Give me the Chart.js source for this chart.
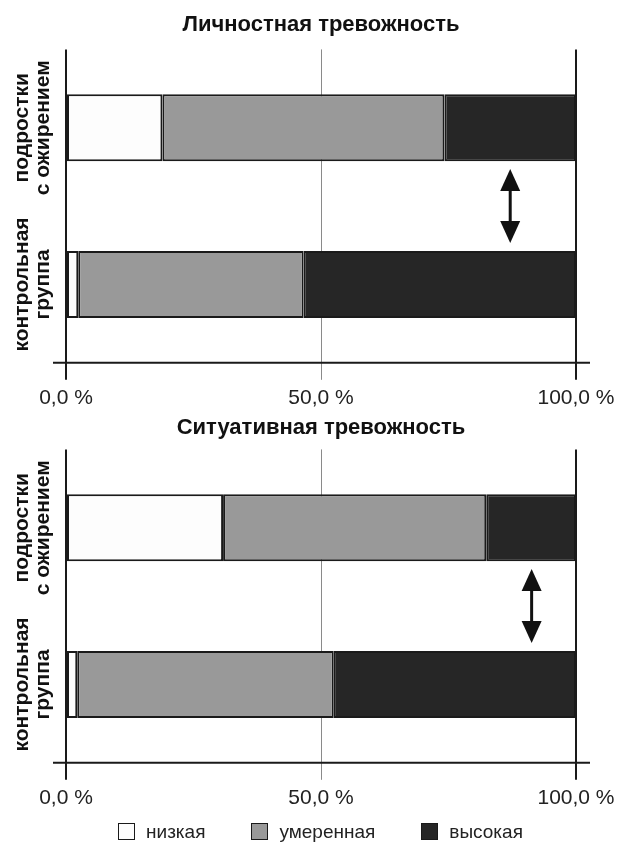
<!DOCTYPE html>
<html lang="ru">
<head>
<meta charset="utf-8">
<title>Личностная и ситуативная тревожность</title>
<script src="https://cdn.jsdelivr.net/npm/chart.js@4/dist/chart.umd.min.js"></script>
<style>
  body { margin: 0; background: #fff; font-family: "Liberation Sans", Arial, sans-serif; }
  #page { position: relative; width: 617px; height: 843px; overflow: hidden; }
  canvas { display: block; position: absolute; left: 0; }
  #trait { top: 0; }
  #state { top: 400px; }
  #legend { position: absolute; left: 0; right: 0; top: 810px; display: flex; justify-content: center; gap: 46px; padding: 12px 0 0 24px; font-size: 19px; color: #222; }
  .item { display: flex; align-items: center; line-height: 19px; }
  .box { width: 15px; height: 15px; border: 1.5px solid #1a1a1a; margin-right: 11px; }
</style>
</head>
<body>
<div id="page">
  <canvas id="trait" width="617" height="417"></canvas>
  <canvas id="state" width="617" height="417"></canvas>
  <div id="legend"></div>
</div>
<script>
// Data (percent of group)
const groups = [['подростки', 'с ожирением'], ['контрольная', 'группа']];
const levels = ['низкая', 'умеренная', 'высокая'];
const fills = ['#fdfdfd', '#999999', '#262626'];
const tickLabels = ['0,0 %', '50,0 %', '100,0 %'];

const traitLow = [18.9, 2.4];
const traitMid = [55.3, 44.2];
const traitHigh = [25.8, 53.4];

const stateLow = [30.8, 2.2];
const stateMid = [51.6, 50.3];
const stateHigh = [17.6, 47.5];

const FONT = '"Liberation Sans", Arial, sans-serif';

// rotated group names left of the bars
const groupLabels = {
  id: 'groupLabels',
  afterDraw(chart) {
    const ctx = chart.ctx;
    const ys = chart.scales.y;
    ctx.save();
    ctx.fillStyle = '#111';
    ctx.font = 'bold 21px ' + FONT;
    ctx.textAlign = 'center';
    ctx.textBaseline = 'middle';
    chart.data.labels.forEach((lines, i) => {
      const py = ys.getPixelForValue(i);
      lines.forEach((line, k) => {
        ctx.save();
        ctx.translate(22 + k * 21, py);
        ctx.rotate(-Math.PI / 2);
        ctx.fillText(line, 0, 0);
        ctx.restore();
      });
    });
    ctx.restore();
  }
};

// horizontal axis line, a bit longer than the plot
const baseLine = {
  id: 'baseLine',
  afterDatasetsDraw(chart) {
    const { ctx, chartArea: a } = chart;
    ctx.save();
    ctx.strokeStyle = '#1a1a1a';
    ctx.lineWidth = 2;
    ctx.beginPath();
    ctx.moveTo(a.left - 13, a.bottom);
    ctx.lineTo(a.right + 14, a.bottom);
    ctx.stroke();
    ctx.restore();
  }
};

// double arrow between the two bars
const diffArrow = {
  id: 'diffArrow',
  afterDatasetsDraw(chart, args, opts) {
    const ctx = chart.ctx;
    const x = chart.scales.x.getPixelForValue(opts.at);
    const ys = chart.scales.y;
    const mid = (ys.getPixelForValue(0) + ys.getPixelForValue(1)) / 2;
    const half = 37, head = 22, w = 10;
    ctx.save();
    ctx.fillStyle = '#111';
    ctx.strokeStyle = '#111';
    ctx.lineWidth = 3;
    ctx.beginPath();
    ctx.moveTo(x, mid - half + head - 2);
    ctx.lineTo(x, mid + half - head + 2);
    ctx.stroke();
    ctx.beginPath();
    ctx.moveTo(x, mid - half);
    ctx.lineTo(x - w, mid - half + head);
    ctx.lineTo(x + w, mid - half + head);
    ctx.closePath();
    ctx.fill();
    ctx.beginPath();
    ctx.moveTo(x, mid + half);
    ctx.lineTo(x - w, mid + half - head);
    ctx.lineTo(x + w, mid + half - head);
    ctx.closePath();
    ctx.fill();
    ctx.restore();
  }
};

function makeChart(id, title, low, mid, high, arrowAt, titlePad) {
  const values = [low, mid, high];
  return new Chart(document.getElementById(id), {
    type: 'bar',
    data: {
      labels: groups,
      datasets: levels.map((lvl, i) => ({
        label: lvl,
        data: values[i],
        backgroundColor: fills[i],
        borderColor: '#1a1a1a',
        borderWidth: 2,
        borderSkipped: false,
        barPercentage: 0.428,
        categoryPercentage: 1
      }))
    },
    options: {
      indexAxis: 'y',
      responsive: false,
      animation: false,
      devicePixelRatio: 1,
      layout: { padding: { top: 0, left: 66, right: 41, bottom: 0 } },
      plugins: {
        legend: { display: false },
        tooltip: { enabled: false },
        title: {
          display: true,
          text: title,
          fullSize: false,
          color: '#111',
          font: { family: FONT, size: 22, weight: 'bold' },
          padding: titlePad
        },
        diffArrow: { at: arrowAt }
      },
      scales: {
        x: {
          type: 'linear',
          min: 0,
          max: 100,
          stacked: true,
          border: { display: false },
          grid: {
            color: c => c.tick && c.tick.value === 50 ? '#8a8a8a' : '#1a1a1a',
            lineWidth: c => c.tick && c.tick.value === 50 ? 1 : 2,
            tickLength: 17
          },
          ticks: {
            stepSize: 50,
            padding: 6,
            maxRotation: 0,
            color: '#222',
            font: { family: FONT, size: 21 },
            callback: (v, i) => tickLabels[i]
          },
          // let the end labels hang over the side margins
          afterFit: s => { s.paddingLeft = 0; s.paddingRight = 0; }
        },
        y: {
          type: 'category',
          stacked: true,
          offset: true,
          display: false
        }
      }
    },
    plugins: [groupLabels, baseLine, diffArrow]
  });
}

makeChart('trait', 'Личностная тревожность', traitLow, traitMid, traitHigh, 87.1, { top: 12, bottom: 11 });
makeChart('state', 'Ситуативная тревожность', stateLow, stateMid, stateHigh, 91.3, { top: 15, bottom: 8 });

// legend
const legend = document.getElementById('legend');
levels.forEach((lvl, i) => {
  const item = document.createElement('div');
  item.className = 'item';
  item.innerHTML = `<span class="box" style="background:${fills[i]}"></span><span>${lvl}</span>`;
  legend.appendChild(item);
});
</script>
</body>
</html>
